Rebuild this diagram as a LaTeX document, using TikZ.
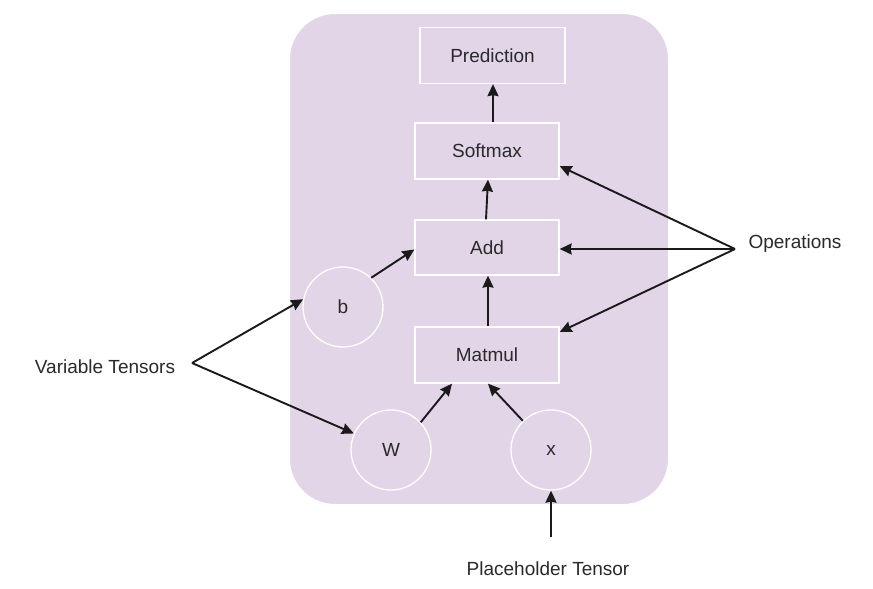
\documentclass[tikz,border=0pt]{standalone}
\usepackage{fontspec}
\setmainfont{Liberation Sans}
\usetikzlibrary{arrows.meta}
\definecolor{purplefill}{HTML}{E1D5E7}
\definecolor{txt}{HTML}{2A2A2A}
\definecolor{arrcol}{HTML}{1A1A1A}
\begin{document}
\begin{tikzpicture}[x=1pt,y=-1pt,
  lbl/.style={font=\fontsize{19}{23}\selectfont, text=txt, inner sep=0pt},
  opbox/.style={draw=white, line width=1.3pt, minimum width=144pt, minimum height=56pt, inner sep=0pt, font=\fontsize{19}{23}\selectfont, text=txt},
  tensor/.style={circle, draw=white, line width=1.3pt, minimum size=80pt, inner sep=0pt, font=\fontsize{19}{23}\selectfont, text=txt},
  arr/.style={draw=arrcol, line width=1.9pt, -{Stealth[length=12pt,width=11pt,inset=1pt]}}
]
\useasboundingbox (0,0) rectangle (873,589);
\fill[white] (0,0) rectangle (873,589);
\draw[draw=white, line width=2pt, fill=purplefill, rounded corners=46pt] (289,13) rectangle (669,505);

\node[opbox, minimum width=145pt] (pred) at (492.5,55.5) {Prediction};
\node[opbox] (soft) at (487,151) {Softmax};
\node[opbox, minimum height=55pt] (add) at (487,247.5) {Add};
\node[opbox] (mat) at (487,355) {Matmul};
\node[tensor] (b) at (343,307) {b};
\node[tensor] (w) at (391,450) {W};
\node[tensor] (x) at (551,450) {x};

\node[lbl] (vt) at (105,367) {Variable Tensors};
\node[lbl] (ops) at (795,244) {Operations};
\node[lbl] (ph) at (548,569) {Placeholder Tensor};

\coordinate (vtv) at (192,363);
\coordinate (opv) at (735,249);
\coordinate (phs) at (551,537);

\draw[arr] ([xshift=6pt]soft.north) -- (pred.south -| 493,0);
\draw[arr] ([xshift=-1pt]add.north) -- ([xshift=1pt]soft.south);
\draw[arr] ([xshift=1pt]mat.north) -- ([xshift=1pt]add.south);
\draw[arr] (b.46) -- ([yshift=-2pt]add.west);
\draw[arr] (w.43) -- ([xshift=-35pt]mat.south);
\draw[arr] (x.134) -- ([xshift=1pt]mat.south);
\draw[arr] (phs) -- (x.south);

\draw[arr] (vtv) -- (b.169);
\draw[arr] (vtv) -- (w.156);
\draw[arr] (opv) -- ([yshift=-15pt]soft.east);
\draw[arr] (opv) -- ([yshift=-1.5pt]add.east);
\draw[arr] (opv) -- ([yshift=23pt]mat.east);
\end{tikzpicture}
\end{document}
